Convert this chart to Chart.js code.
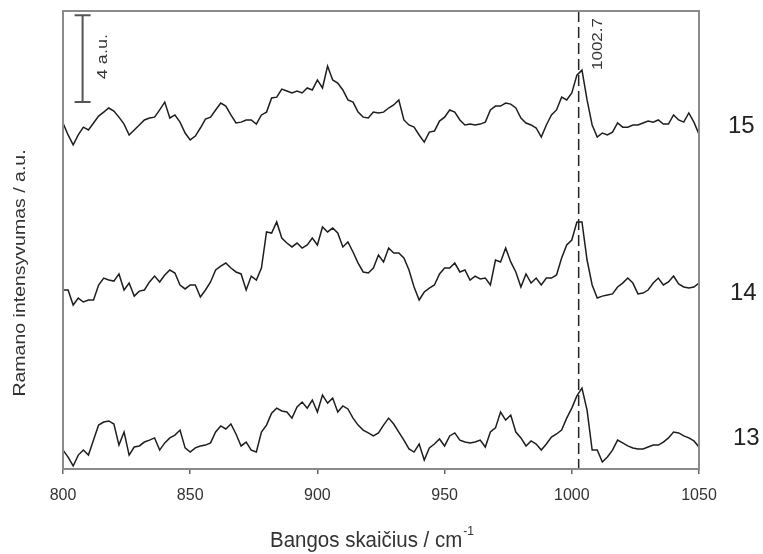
<!DOCTYPE html>
<html>
<head>
<meta charset="utf-8">
<script src="https://cdn.jsdelivr.net/npm/chart.js@4.4.1/dist/chart.umd.min.js"></script>
<style>
  html, body { margin: 0; padding: 0; background: #fff; }
</style>
</head>
<body>
<canvas id="raman" width="763" height="554"></canvas>
<script>
// Raman shift grid, cm-1
const wavenumbers = [
  800, 802, 804, 806, 808, 810, 812, 814, 816, 818,
  820, 822, 824, 826, 828, 830, 832, 834, 836, 838,
  840, 842, 844, 846, 848, 850, 852, 854, 856, 858,
  860, 862, 864, 866, 868, 870, 872, 874, 876, 878,
  880, 882, 884, 886, 888, 890, 892, 894, 896, 898,
  900, 902, 904, 906, 908, 910, 912, 914, 916, 918,
  920, 922, 924, 926, 928, 930, 932, 934, 936, 938,
  940, 942, 944, 946, 948, 950, 952, 954, 956, 958,
  960, 962, 964, 966, 968, 970, 972, 974, 976, 978,
  980, 982, 984, 986, 988, 990, 992, 994, 996, 998,
  1000, 1002, 1004, 1006, 1008, 1010, 1012, 1014, 1016, 1018,
  1020, 1022, 1024, 1026, 1028, 1030, 1032, 1034, 1036, 1038,
  1040, 1042, 1044, 1046, 1048, 1050
];

// intensities in a.u., already offset for stacking
const spectrum13 = [
  0.87, 0.55, 0.14, 0.64, 0.87, 0.64, 1.33, 2.02, 2.16, 2.21,
  2.07, 1.10, 1.70, 0.64, 1.01, 1.06, 1.24, 1.33, 1.43, 0.87,
  1.20, 1.43, 1.56, 1.79, 0.97, 0.78, 0.97, 1.06, 1.10, 1.20,
  1.70, 1.98, 1.84, 2.07, 1.61, 1.06, 1.24, 0.87, 0.78, 1.70,
  2.02, 2.57, 2.80, 2.67, 2.62, 2.34, 2.85, 3.08, 2.80, 3.17,
  2.62, 3.40, 3.03, 3.26, 2.62, 2.90, 2.76, 2.34, 2.02, 1.79,
  1.66, 1.52, 1.66, 2.02, 2.34, 2.07, 1.70, 1.33, 0.92, 0.78,
  1.15, 0.41, 0.97, 1.15, 1.38, 1.06, 1.52, 1.66, 1.33, 1.24,
  1.20, 1.24, 1.33, 1.01, 1.70, 1.89, 2.62, 2.25, 2.48, 1.70,
  1.43, 1.06, 1.29, 1.15, 0.87, 1.15, 1.47, 1.61, 1.79, 2.34,
  2.80, 3.36, 3.72, 2.71, 0.87, 0.87, 0.32, 0.55, 0.87, 1.33,
  1.20, 1.06, 0.97, 0.92, 0.92, 1.01, 1.10, 1.10, 1.24, 1.43,
  1.70, 1.66, 1.52, 1.43, 1.29, 1.01
];

const spectrum14 = [
  8.23, 8.23, 7.54, 7.86, 7.68, 7.77, 7.77, 8.46, 8.78, 8.69,
  8.64, 8.97, 8.23, 8.55, 7.95, 8.18, 8.23, 8.60, 8.87, 8.60,
  8.92, 9.15, 9.01, 8.46, 8.28, 8.46, 8.46, 7.91, 8.23, 8.60,
  9.15, 9.33, 9.47, 9.24, 9.06, 8.97, 8.23, 8.87, 8.69, 9.24,
  10.90, 10.85, 11.36, 10.62, 10.39, 10.21, 10.39, 10.16, 10.30, 10.62,
  10.30, 11.13, 10.90, 11.08, 10.85, 10.21, 10.44, 9.98, 9.47, 9.06,
  9.01, 9.24, 9.84, 9.52, 10.16, 9.93, 9.93, 9.70, 9.15, 8.37,
  7.77, 8.14, 8.32, 8.46, 8.97, 9.24, 9.24, 9.47, 9.06, 9.15,
  8.69, 8.87, 8.74, 8.78, 8.46, 9.61, 9.52, 10.16, 9.52, 9.06,
  8.37, 8.97, 8.55, 8.78, 8.46, 8.78, 8.78, 8.92, 9.70, 10.30,
  10.53, 11.36, 11.36, 9.61, 8.46, 7.86, 7.95, 8.00, 8.05, 8.37,
  8.55, 8.78, 8.55, 8.05, 8.09, 8.23, 8.55, 8.78, 8.46, 8.60,
  8.87, 8.51, 8.37, 8.32, 8.37, 8.55
];

const spectrum15 = [
  15.91, 15.36, 14.90, 15.36, 15.72, 15.59, 15.91, 16.23, 16.41, 16.60,
  16.46, 16.18, 15.86, 15.36, 15.59, 15.82, 16.05, 16.14, 16.18, 16.51,
  16.87, 16.14, 16.28, 15.95, 15.45, 15.13, 15.31, 15.68, 16.09, 16.18,
  16.51, 16.83, 16.69, 16.28, 15.91, 15.95, 16.05, 16.05, 15.86, 16.28,
  16.41, 17.06, 17.10, 17.47, 17.38, 17.29, 17.38, 17.29, 17.52, 17.43,
  17.89, 17.52, 18.53, 17.89, 17.75, 17.43, 16.97, 16.87, 16.41, 16.18,
  16.14, 16.41, 16.37, 16.41, 16.60, 16.74, 16.97, 16.05, 15.82, 15.72,
  15.36, 15.03, 15.49, 15.54, 16.00, 16.18, 16.51, 16.41, 16.05, 15.82,
  15.86, 15.82, 15.86, 15.95, 16.51, 16.69, 16.69, 16.83, 16.78, 16.60,
  16.14, 15.91, 15.82, 15.68, 15.26, 15.82, 16.28, 16.51, 17.10, 16.97,
  17.29, 18.11, 18.34, 16.97, 15.82, 15.26, 15.45, 15.36, 15.49, 15.91,
  15.72, 15.72, 15.82, 15.82, 15.91, 16.00, 15.95, 16.05, 15.86, 15.86,
  16.28, 16.05, 15.95, 16.37, 15.95, 15.40
];

const sampleNames = ["13", "14", "15"];
const sampleLevels = [1.43, 8.09, 15.77]; // where the sample number sits, a.u.
const xTicks = [800, 850, 900, 950, 1000, 1050];
const peakPosition = 1002.7;
const scaleBarAt = 807.7;          // cm-1
const scaleBarRange = [16.87, 20.87]; // 4 a.u.

const FONT = "'Liberation Sans', Arial, sans-serif";
const TEXT = "#333";

function toPoints(values) {
  return values.map((v, i) => ({ x: wavenumbers[i], y: v }));
}

function verticalText(ctx, str, cx, cy, size, squeeze) {
  ctx.save();
  ctx.translate(cx, cy);
  ctx.rotate(-Math.PI / 2);
  ctx.scale(1, squeeze);
  ctx.font = size + "px " + FONT;
  ctx.textAlign = "center";
  ctx.textBaseline = "middle";
  ctx.fillText(str, 0, 0);
  ctx.restore();
}

const decorations = {
  id: "decorations",
  afterDatasetsDraw(chart) {
    const { ctx, chartArea: a, scales: { x, y } } = chart;
    ctx.save();

    // peak marker
    const px = x.getPixelForValue(peakPosition);
    ctx.strokeStyle = "#222";
    ctx.lineWidth = 1.5;
    ctx.setLineDash([11, 5]);
    ctx.beginPath();
    ctx.moveTo(px, a.top);
    ctx.lineTo(px, a.bottom);
    ctx.stroke();
    ctx.setLineDash([]);
    ctx.fillStyle = TEXT;
    verticalText(ctx, peakPosition.toFixed(1), px + 19, a.top + 33, 17, 0.85);

    // 4 a.u. scale bar
    const bx = x.getPixelForValue(scaleBarAt);
    const b0 = y.getPixelForValue(scaleBarRange[0]);
    const b1 = y.getPixelForValue(scaleBarRange[1]);
    ctx.strokeStyle = "#555";
    ctx.lineWidth = 2;
    ctx.beginPath();
    ctx.moveTo(bx, b0); ctx.lineTo(bx, b1);
    ctx.moveTo(bx - 8, b0); ctx.lineTo(bx + 8, b0);
    ctx.moveTo(bx - 8, b1); ctx.lineTo(bx + 8, b1);
    ctx.stroke();
    verticalText(ctx, "4 a.u.", bx + 20, (b0 + b1) / 2 - 2, 18, 0.85);

    // frame
    ctx.strokeStyle = "#8a8a8a";
    ctx.lineWidth = 2;
    ctx.strokeRect(a.left, a.top, a.right - a.left, a.bottom - a.top);

    // sample numbers
    ctx.fillStyle = "#222";
    ctx.font = "24px " + FONT;
    ctx.textAlign = "left";
    ctx.textBaseline = "middle";
    const shift = [34, 31, 29];
    sampleNames.forEach((name, i) => {
      ctx.fillText(name, a.right + shift[i], y.getPixelForValue(sampleLevels[i]));
    });

    // axis titles
    ctx.fillStyle = TEXT;
    verticalText(ctx, "Ramano intensyvumas / a.u.", 20, 273, 19.5, 0.88);

    const main = "Bangos skaičius / cm";
    ctx.save();
    ctx.font = "22px " + FONT;
    const wMain = ctx.measureText(main).width;
    ctx.font = "13px " + FONT;
    const wSup = ctx.measureText("-1").width;
    const squeeze = 0.93;
    const total = (wMain + wSup + 1) * squeeze;
    ctx.translate(372 - total / 2, 547);
    ctx.scale(squeeze, 1);
    ctx.textAlign = "left";
    ctx.textBaseline = "alphabetic";
    ctx.font = "22px " + FONT;
    ctx.fillText(main, 0, 0);
    ctx.font = "13px " + FONT;
    ctx.fillText("-1", wMain + 1, -12);
    ctx.restore();

    ctx.restore();
  }
};

const lineStyle = {
  borderColor: "#1e1e1e",
  borderWidth: 1.5,
  pointRadius: 0,
  tension: 0,
  fill: false
};

new Chart(document.getElementById("raman"), {
  type: "line",
  data: {
    datasets: [
      { label: sampleNames[0], data: toPoints(spectrum13), ...lineStyle },
      { label: sampleNames[1], data: toPoints(spectrum14), ...lineStyle },
      { label: sampleNames[2], data: toPoints(spectrum15), ...lineStyle }
    ]
  },
  options: {
    responsive: false,
    animation: false,
    devicePixelRatio: 1,
    layout: { padding: { top: 11, right: 64, left: 0, bottom: 0 } },
    plugins: {
      legend: { display: false },
      tooltip: { enabled: false }
    },
    scales: {
      x: {
        type: "linear",
        min: xTicks[0],
        max: xTicks[xTicks.length - 1],
        afterBuildTicks: (s) => { s.ticks = xTicks.map((v) => ({ value: v })); },
        afterFit: (s) => { s.height = 85; },
        ticks: {
          color: TEXT,
          font: { family: FONT, size: 16 },
          padding: 12,
          maxRotation: 0,
          autoSkip: false,
          callback: (v) => String(v)
        },
        grid: {
          drawOnChartArea: false,
          drawTicks: true,
          tickLength: 5,
          color: "#666",
          lineWidth: 1.5
        },
        border: { display: false }
      },
      y: {
        min: 0,
        max: 21.06,
        afterFit: (s) => { s.width = 63; },
        ticks: { display: false },
        grid: { display: false },
        border: { display: false }
      }
    }
  },
  plugins: [decorations]
});
</script>
</body>
</html>
